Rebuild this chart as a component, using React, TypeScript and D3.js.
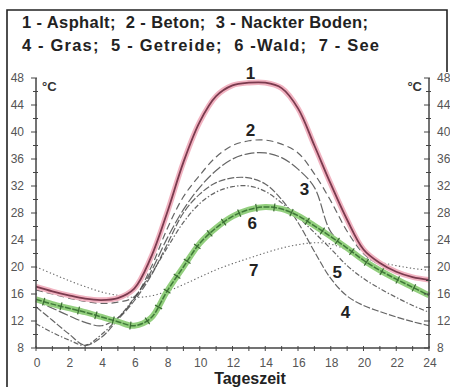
import React, { useEffect, useRef } from 'react';
import * as d3 from 'd3';

// Tagesgang der Oberflächentemperatur (°C) über 24 Stunden
const hours = [0, 1, 2, 3, 4, 5, 6, 7, 8, 9, 10, 11, 12, 13, 14, 15, 16, 17, 18, 19, 20, 21, 22, 23, 24];
const asphalt = [17.1, 16.4, 15.8, 15.3, 15.1, 15.4, 16.8, 21.3, 28, 35.5, 41.5, 45.3, 46.9, 47.3, 47.3, 46.5, 43.5, 38, 32.3, 27, 22.6, 20.6, 19.3, 18.5, 18.1];
const beton = [16.6, 16.0, 15.4, 14.9, 14.6, 14.8, 15.6, 19.8, 25.6, 30.4, 33.6, 36.3, 38.0, 38.7, 38.8, 38.2, 36.9, 33.8, 29.8, 25.3, 22.0, 20.3, 19.2, 18.5, 18.0];
const nackterBoden = [15.0, 13.9, 12.8, 11.8, 11.3, 12.5, 15.3, 19.2, 24.2, 28.5, 31.8, 34.3, 36.0, 36.8, 36.9, 36.2, 34.5, 31.8, 25.2, 22.9, 21.0, 19.5, 18.2, 17.0, 15.8];
const gras = [14.1, 12.1, 10.1, 8.4, 9.6, 12.2, 15.0, 18.6, 23.3, 28, 30.8, 32.5, 33.2, 33.2, 32.3, 30, 26.6, 22.3, 18.3, 15.7, 14.3, 13.4, 12.6, 11.9, 11.3];
const getreide = [11.6, 10.3, 9.2, 8.4, 10.0, 12.4, 15.4, 18.8, 22.8, 26.6, 29.4, 31.1, 31.9, 32.0, 31.2, 29.5, 27.4, 25.1, 22.7, 20.2, 18.3, 16.8, 15.5, 14.3, 13.3];
const wald = [15.2, 14.5, 13.9, 13.3, 12.6, 11.9, 11.3, 12.4, 16.4, 20.0, 23.5, 25.8, 27.5, 28.5, 28.9, 28.6, 27.6, 26.1, 24.5, 22.8, 21.0, 19.5, 18.2, 17.0, 15.8];
const see = [20.0, 19.0, 18.0, 17.1, 16.3, 15.8, 15.5, 15.7, 16.4, 17.4, 18.5, 19.6, 20.5, 21.3, 22.1, 22.8, 23.3, 23.6, 23.4, 22.5, 21.4, 20.7, 20.2, 19.8, 19.5];

const legendLines = ['1 - Asphalt;  2 - Beton;  3 - Nackter Boden;', '4 - Gras;  5 - Getreide;  6 -Wald;  7 - See'];
const yTickValues = [8, 12, 16, 20, 24, 28, 32, 36, 40, 44, 48];
const xTickValues = [0, 2, 4, 6, 8, 10, 12, 14, 16, 18, 20, 22, 24];
const curveNames = ['1', '2', '3', '4', '5', '6', '7'];
// where the number of each curve sits, in hours / °C
const labelHours = [13.1, 13.1, 16.4, 18.9, 18.4, 13.2, 13.3];
const labelValues = [48.7, 40.3, 31.6, 13.3, 19.3, 26.5, 19.6];

const width = 450;
const height = 387;

export default function App() {
  const svgRef = useRef<SVGSVGElement>(null);

  useEffect(() => {
    if (!svgRef.current) return;
    const svg = d3.select(svgRef.current);
    svg.selectAll('*').remove();

    const x = d3.scaleLinear().domain([0, 24]).range([36, 429]);
    const y = d3.scaleLinear().domain([8, 48]).range([348, 78]);

    svg.append('rect').attr('width', width).attr('height', height).attr('fill', '#fff');

    // frame
    svg.append('path')
      .attr('d', 'M7,387V10H447V72')
      .attr('fill', 'none')
      .attr('stroke', '#222')
      .attr('stroke-width', 1.6);

    // legend
    legendLines.forEach((t, i) => {
      svg.append('text')
        .attr('x', 22)
        .attr('y', 28 + i * 23)
        .attr('font-family', 'Liberation Sans, Arial, sans-serif')
        .attr('font-weight', 'bold')
        .attr('font-size', 16.5)
        .attr('fill', '#222')
        .attr('textLength', i === 0 ? 346 : 357)
        .attr('lengthAdjust', 'spacing')
        .style('white-space', 'pre')
        .text(t);
    });

    const line = d3.line<number>()
      .x((d, i) => x(hours[i]))
      .y(d => y(d))
      .curve(d3.curveCatmullRom.alpha(0.5));

    const g = svg.append('g');

    // thin gray curves
    const grayCurves: [number[], string, number][] = [
      [see, '1.3,2.4', 1.1],
      [getreide, '5,2,1.5,2', 1.2],
      [gras, '7,2', 1.2],
      [nackterBoden, '10,2.5', 1.2],
      [beton, '7,4', 1.2],
    ];
    grayCurves.forEach(([data, dash, w]) => {
      g.append('path')
        .attr('d', line(data))
        .attr('fill', 'none')
        .attr('stroke', '#4a4a4a')
        .attr('stroke-opacity', 0.85)
        .attr('stroke-width', w)
        .attr('stroke-dasharray', dash);
    });

    // Wald: green band with ticks
    g.append('path')
      .attr('d', line(wald))
      .attr('fill', 'none')
      .attr('stroke', '#93cf7e')
      .attr('stroke-width', 6);
    const waldPath = g.append('path')
      .attr('d', line(wald))
      .attr('fill', 'none')
      .attr('stroke', '#3f7a38')
      .attr('stroke-width', 1.5)
      .attr('stroke-dasharray', '6,1.5');
    const node = waldPath.node() as SVGPathElement;
    const total = node.getTotalLength();
    for (let s = 8; s < total - 4; s += 18) {
      const p = node.getPointAtLength(s);
      const q = node.getPointAtLength(s + 1);
      const dx = q.x - p.x;
      const dy = q.y - p.y;
      const len = Math.hypot(dx, dy) || 1;
      const nx = -dy / len;
      const ny = dx / len;
      g.append('line')
        .attr('x1', p.x - nx * 4)
        .attr('y1', p.y - ny * 4)
        .attr('x2', p.x + nx * 4)
        .attr('y2', p.y + ny * 4)
        .attr('stroke', '#3a6a33')
        .attr('stroke-width', 1.2);
    }

    // Asphalt: pink band with dark core
    g.append('path')
      .attr('d', line(asphalt))
      .attr('fill', 'none')
      .attr('stroke', '#f1b3c1')
      .attr('stroke-width', 5.5);
    g.append('path')
      .attr('d', line(asphalt))
      .attr('fill', 'none')
      .attr('stroke', '#7b3a4e')
      .attr('stroke-width', 1.8);

    // axes
    const axisColor = '#444';
    const tickFont = 'Liberation Sans, Arial, sans-serif';
    [x(0), x(24)].forEach((ax, side) => {
      svg.append('line')
        .attr('x1', ax).attr('x2', ax)
        .attr('y1', y(48)).attr('y2', y(8))
        .attr('stroke', axisColor)
        .attr('stroke-width', 1.5);
      y.ticks(20).forEach(v => {
        const major = v % 4 === 0;
        svg.append('line')
          .attr('x1', ax - (major ? 5 : 3)).attr('x2', ax + (major ? 1 : 2))
          .attr('y1', y(v)).attr('y2', y(v))
          .attr('stroke', axisColor)
          .attr('stroke-width', 1);
      });
      yTickValues.forEach(v => {
        svg.append('text')
          .attr('x', side === 0 ? 24 : 437)
          .attr('y', y(v) + 4)
          .attr('text-anchor', side === 0 ? 'end' : 'start')
          .attr('font-family', tickFont)
          .attr('font-size', 12)
          .attr('fill', '#555')
          .text(String(v));
      });
    });

    svg.append('line')
      .attr('x1', x(0)).attr('x2', x(24))
      .attr('y1', y(8)).attr('y2', y(8))
      .attr('stroke', axisColor)
      .attr('stroke-width', 1.5);
    hours.forEach(h => {
      svg.append('line')
        .attr('x1', x(h)).attr('x2', x(h))
        .attr('y1', y(8) - 2).attr('y2', y(8) + 3)
        .attr('stroke', axisColor)
        .attr('stroke-width', 1);
    });
    xTickValues.forEach(h => {
      svg.append('text')
        .attr('x', x(h) + 1)
        .attr('y', 367)
        .attr('text-anchor', 'middle')
        .attr('font-family', tickFont)
        .attr('font-size', 12)
        .attr('fill', '#555')
        .text(String(h));
    });

    // units
    svg.append('text')
      .attr('x', 42).attr('y', 91)
      .attr('font-family', tickFont)
      .attr('font-weight', 'bold')
      .attr('font-size', 13)
      .attr('fill', '#333')
      .text('°C');
    svg.append('text')
      .attr('x', 422).attr('y', 91)
      .attr('text-anchor', 'end')
      .attr('font-family', tickFont)
      .attr('font-weight', 'bold')
      .attr('font-size', 13)
      .attr('fill', '#333')
      .text('°C');

    // axis title
    svg.append('text')
      .attr('x', 250).attr('y', 384)
      .attr('text-anchor', 'middle')
      .attr('font-family', tickFont)
      .attr('font-weight', 'bold')
      .attr('font-size', 16)
      .attr('fill', '#222')
      .text('Tageszeit');

    // curve numbers
    curveNames.forEach((n, i) => {
      svg.append('text')
        .attr('x', x(labelHours[i]))
        .attr('y', y(labelValues[i]) + 6)
        .attr('text-anchor', 'middle')
        .attr('font-family', tickFont)
        .attr('font-weight', 'bold')
        .attr('font-size', 17)
        .attr('fill', '#222')
        .text(n);
    });
  }, []);

  return (
    <svg
      ref={svgRef}
      width={width}
      height={height}
      style={{ position: 'absolute', left: 0, top: 0, display: 'block' }}
    />
  );
}
